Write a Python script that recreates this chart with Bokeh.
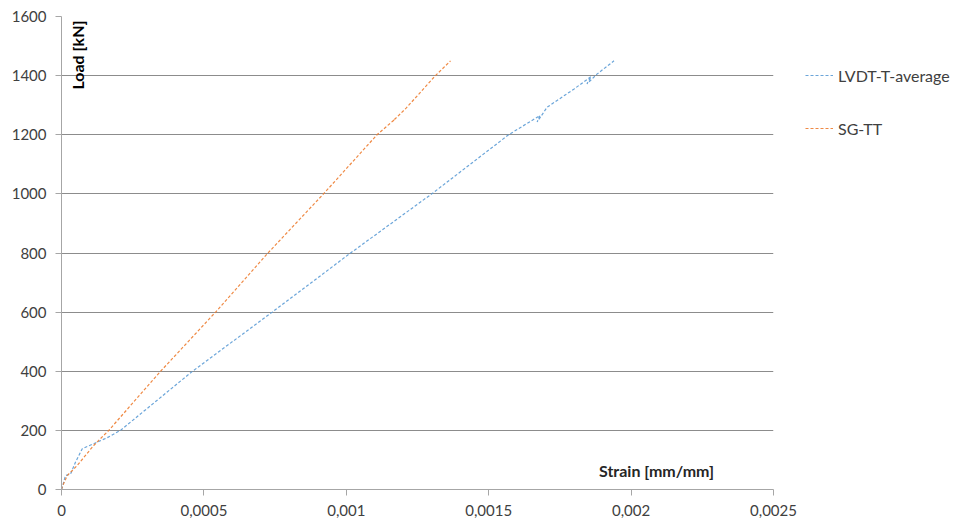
import math
from bokeh.plotting import figure
from bokeh.models import FixedTicker, Label, Legend, LegendItem
from bokeh.embed import file_html
from bokeh.resources import INLINE

# LVDT-T-average (strain, load)
lvdt_strain = [0.0, 0.000003, 0.000014, 0.000032, 0.000049, 0.000073, 0.000113, 0.00016,
               0.000207, 0.00046, 0.00074, 0.001015, 0.0013, 0.00157, 0.00168, 0.00167,
               0.001705, 0.00180, 0.00186, 0.001845, 0.00188, 0.00194]
lvdt_load = [0, 8, 47, 53, 92, 138, 155, 175, 200, 400, 600, 800, 1000, 1200, 1265, 1243,
             1293, 1355, 1397, 1372, 1405, 1450]

# SG-TT (strain, load)
sg_strain = [0.0, 0.000003, 0.00002, 0.000055, 0.000113, 0.000166, 0.000348, 0.000541,
             0.000725, 0.00092, 0.001108, 0.00117, 0.001162, 0.00121, 0.001313, 0.001366]
sg_load = [0, 10, 47, 81, 149, 200, 400, 600, 800, 1000, 1200, 1252, 1245, 1290, 1400, 1450]

x_ticks = [0, 0.0005, 0.001, 0.0015, 0.002, 0.0025]
x_tick_labels = ["0", "0,0005", "0,001", "0,0015", "0,002", "0,0025"]
y_ticks = [0, 200, 400, 600, 800, 1000, 1200, 1400, 1600]

FONT = "Lato"
TXT = "#404040"
GRID = "#8C8C8C"

p = figure(frame_width=712, frame_height=473, min_border_left=61, min_border_top=16,
           min_border_right=184, min_border_bottom=33,
           x_range=(0, 0.0025), y_range=(0, 1600),
           output_backend="svg", toolbar_location=None)
p.outline_line_color = None
p.background_fill_color = "white"

r1 = p.line(lvdt_strain, lvdt_load, line_color="#5B9BD5", line_width=1.2, line_dash="3 2",
            line_alpha=0.9)
r2 = p.line(sg_strain, sg_load, line_color="#ED7D31", line_width=1.2, line_dash="3 2",
            line_alpha=0.9)

p.xaxis.ticker = FixedTicker(ticks=x_ticks)
p.xaxis.major_label_overrides = {t: l for t, l in zip(x_ticks, x_tick_labels)}
p.yaxis.ticker = FixedTicker(ticks=y_ticks)

for ax in (p.xaxis[0], p.yaxis[0]):
    ax.axis_line_color = "#A6A6A6"
    ax.major_tick_line_color = "#A6A6A6"
    ax.major_tick_out = 6
    ax.major_tick_in = 0
    ax.minor_tick_line_color = None
    ax.major_label_text_font = FONT
    ax.major_label_text_font_size = "15px"
    ax.major_label_text_color = TXT
p.yaxis.major_label_standoff = 9
p.xaxis.major_label_standoff = 9

p.xgrid.grid_line_color = None
p.ygrid.grid_line_color = GRID
p.ygrid.grid_line_width = 1

p.add_layout(Label(x=16, y=469, x_units="screen", y_units="screen", text="Load [kN]",
                   angle=math.pi / 2, text_align="right", text_baseline="middle",
                   text_font=FONT, text_font_style="bold", text_font_size="16px",
                   text_color="black"))
p.add_layout(Label(x=595, y=19, x_units="screen", y_units="screen", text="Strain [mm/mm]",
                   text_align="center", text_baseline="middle",
                   text_font=FONT, text_font_style="bold", text_font_size="16px",
                   text_color="#262626"))

legend = Legend(items=[LegendItem(label="LVDT-T-average", renderers=[r1]),
                       LegendItem(label="SG-TT", renderers=[r2])],
                location=(32, 351), padding=0, margin=0, spacing=33,
                glyph_width=28, glyph_height=20, label_standoff=5,
                label_text_font=FONT, label_text_font_size="16px", label_text_color=TXT,
                border_line_color=None, background_fill_alpha=0)
p.add_layout(legend, "right")

open("out.html", "w").write(file_html(p, INLINE))
